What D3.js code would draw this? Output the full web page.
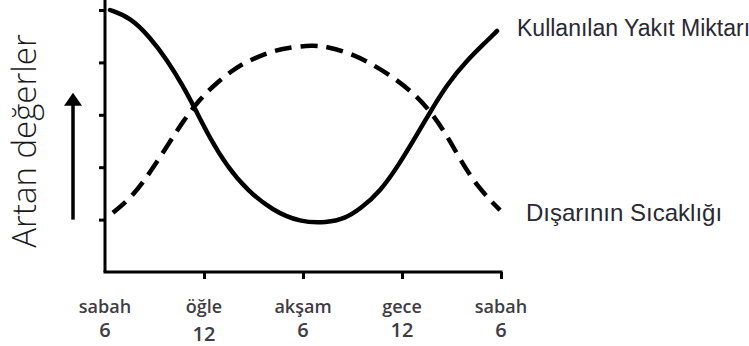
<!DOCTYPE html>
<html>
<head>
<meta charset="utf-8">
<script src="https://cdn.jsdelivr.net/npm/d3@7"></script>
<style>
  html, body { margin: 0; padding: 0; background: #ffffff; }
  svg { display: block; }
</style>
</head>
<body>
<svg id="chart" width="749" height="346"></svg>
<script>
// Hours after 6 in the morning (0 = sabah 6, 24 = next sabah 6)
const fuelHours  = [0.3, 1.52, 2.73, 3.76, 4.73, 5.45, 6.36, 7.39, 8.61, 10.18, 11.82, 13.45, 14.55, 15.45, 16.67, 17.88, 18.9, 19.7, 20.73, 21.94, 23.15, 23.76];
const fuelValues = [5.0, 4.86, 4.48, 4.05, 3.55, 3.12, 2.55, 2.02, 1.56, 1.17, 0.95, 0.94, 1.02, 1.2, 1.53, 2.08, 2.62, 3.05, 3.58, 4.04, 4.41, 4.6];

const tempHours  = [0.48, 1.7, 2.73, 3.76, 4.73, 5.76, 6.55, 7.76, 8.61, 10.0, 11.03, 12.6, 13.45, 14.85, 16.06, 17.45, 18.67, 19.7, 20.73, 21.52, 22.55, 23.94];
const tempValues = [1.13, 1.45, 1.9, 2.4, 2.88, 3.3, 3.55, 3.86, 4.02, 4.2, 4.28, 4.33, 4.3, 4.18, 3.99, 3.72, 3.42, 3.08, 2.6, 2.15, 1.63, 1.18];

const xTickHours   = [0, 6, 12, 18, 24];
const xTickPeriods = ["sabah", "öğle", "akşam", "gece", "sabah"];
const xTickClock   = ["6", "12", "6", "12", "6"];
const yTickValues  = [1, 2, 3, 4, 5];

const seriesNames = ["Kullanılan Yakıt Miktarı", "Dışarının Sıcaklığı"];
const yAxisTitle  = "Artan değerler";

const svg = d3.select("#chart");

const x = d3.scaleLinear().domain([0, 24]).range([105, 501]);
const y = d3.scaleLinear().domain([0, 5]).range([272, 10]);

// Y axis: ticks only, spine extended a little above the top tick
const yAxis = svg.append("g")
  .attr("transform", `translate(${x(0)},0)`)
  .call(d3.axisLeft(y).tickValues(yTickValues).tickSize(6).tickSizeOuter(0).tickFormat(""));
yAxis.select(".domain")
  .attr("d", `M0,${y(0)}V${y(5) - 10}`)
  .attr("stroke", "#000").attr("stroke-width", 3);
yAxis.selectAll(".tick line").attr("stroke", "#000").attr("stroke-width", 3);

// X axis
const xAxis = svg.append("g")
  .attr("transform", `translate(0,${y(0)})`)
  .call(d3.axisBottom(x).tickValues(xTickHours.slice(1)).tickSize(7).tickSizeOuter(0).tickFormat(""));
xAxis.select(".domain")
  .attr("d", `M${x(0) - 1.5},0H${x(24) + 1.5}`)
  .attr("stroke", "#000").attr("stroke-width", 3);
xAxis.selectAll(".tick line").attr("stroke", "#000").attr("stroke-width", 3);

// Two-line time labels under the x axis
const labels = svg.append("g")
  .attr("fill", "#3f3c44")
  .attr("font-family", "'Open Sans', sans-serif")
  .attr("font-weight", 600)
  .attr("text-anchor", "middle");
xTickHours.forEach((h, i) => {
  labels.append("text")
    .attr("x", x(h)).attr("y", 313)
    .attr("font-size", 18)
    .text(xTickPeriods[i]);
  labels.append("text")
    .attr("x", x(h)).attr("y", i === 1 ? 341 : 337)
    .attr("font-size", 20)
    .text(xTickClock[i]);
});

// Curves
const line = d3.line()
  .x(d => x(d[0]))
  .y(d => y(d[1]))
  .curve(d3.curveBasis);

svg.append("path")
  .datum(d3.zip(fuelHours, fuelValues))
  .attr("d", line)
  .attr("fill", "none")
  .attr("stroke", "#000")
  .attr("stroke-width", 4.5)
  .attr("stroke-linecap", "round");

svg.append("path")
  .datum(d3.zip(tempHours, tempValues))
  .attr("d", line)
  .attr("fill", "none")
  .attr("stroke", "#000")
  .attr("stroke-width", 4.5)
  .attr("stroke-dasharray", "17 9")
  .attr("stroke-linecap", "butt");

// Series labels at the line ends
const seriesText = svg.append("g")
  .attr("fill", "#2a2832")
  .attr("font-family", "'Liberation Sans', Arial, sans-serif");
seriesText.append("text")
  .attr("x", 517).attr("y", 36)
  .attr("font-size", 23)
  .text(seriesNames[0]);
seriesText.append("text")
  .attr("x", 526).attr("y", 221)
  .attr("font-size", 24)
  .text(seriesNames[1]);

// Y axis title, rotated
svg.append("text")
  .attr("transform", `translate(36,141) rotate(-90)`)
  .attr("text-anchor", "middle")
  .attr("fill", "#1a1a1a")
  .attr("font-family", "'Open Sans', sans-serif")
  .attr("font-weight", 300)
  .attr("font-size", 33)
  .text(yAxisTitle);

// Upward arrow beside the y axis
const arrowX = 73;
const arrowTop = y(3.42);
svg.append("line")
  .attr("x1", arrowX).attr("x2", arrowX)
  .attr("y1", y(1)).attr("y2", arrowTop + 8)
  .attr("stroke", "#000").attr("stroke-width", 3.5);
svg.append("path")
  .attr("d", `M${arrowX},${arrowTop}L${arrowX + 9},${arrowTop + 13}L${arrowX - 9},${arrowTop + 13}Z`)
  .attr("fill", "#000");
</script>
</body>
</html>
